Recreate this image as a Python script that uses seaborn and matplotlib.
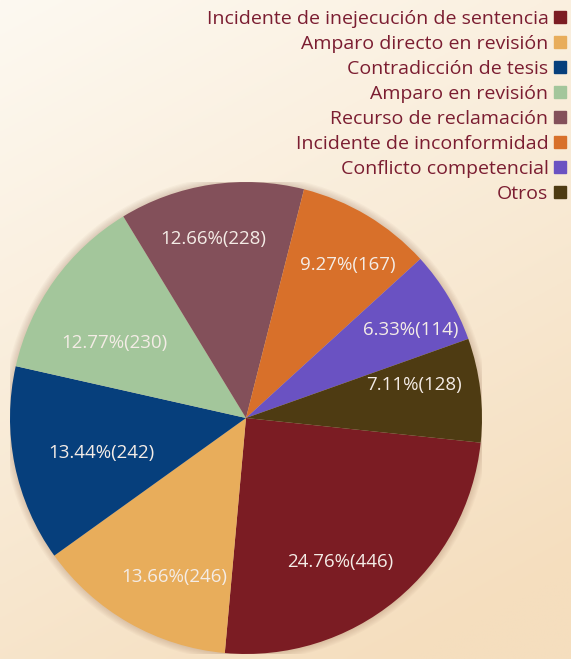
import numpy as np
import matplotlib
matplotlib.use('Agg')
import matplotlib.pyplot as plt
from matplotlib.lines import Line2D
from matplotlib.patches import Circle
import seaborn as sns

# data
categories = ['Incidente de inejecución de sentencia',
              'Amparo directo en revisión',
              'Contradicción de tesis',
              'Amparo en revisión',
              'Recurso de reclamación',
              'Incidente de inconformidad',
              'Conflicto competencial',
              'Otros']
counts = [446, 246, 242, 230, 228, 167, 114, 128]
slice_colors = ['#7b1c23', '#e8ad5b', '#063f7c', '#a3c69b',
                '#83505a', '#d8702a', '#6a52c2', '#4e3b12']

# label placement tweaks (degrees off the wedge middle, fraction of radius)
label_shift = [-6.4, 5.6, 2.2, 5.9, 1.7, -2.8, -2.8, 4.3]
label_radius = [0.73, 0.74, 0.63, 0.64, 0.77, 0.78, 0.79, 0.725]

sns.set_style('white')
plt.rcParams['font.family'] = ['Open Sans', 'DejaVu Sans']

fig = plt.figure(figsize=(5.71, 6.59), dpi=100)

# warm gradient background
bg = fig.add_axes([0, 0, 1, 1])
yy, xx = np.mgrid[0:1:200j, 0:1:200j]
t = np.clip(0.75 * yy + 0.35 * xx, 0, 1)
top = np.array([253, 249, 241]) / 255
bot = np.array([245, 222, 190]) / 255
img = top[None, None, :] * (1 - t[..., None]) + bot[None, None, :] * t[..., None]
bg.imshow(img, extent=[0, 1, 0, 1], aspect='auto', origin='upper')
bg.axis('off')

ax = fig.add_axes([0.0175, 0.0076, 0.8266, 0.7162])

# soft glow around the pie
for k in range(6):
    ax.add_patch(Circle((0, 0), 1.0 + 0.005 * (k + 1), color='#7a4a30',
                        alpha=0.035, lw=0, zorder=0))

total = sum(counts)
def fmt(pct):
    n = int(round(pct * total / 100.0))
    return '%.2f%%(%d)' % (pct, n)

wedges, texts, autotexts = ax.pie(counts, colors=slice_colors, startangle=-6,
                                  counterclock=False, autopct=fmt, pctdistance=0.73,
                                  wedgeprops=dict(linewidth=0),
                                  textprops=dict(color='#f4ece6', fontsize=13.5))
for w, at, dth, r in zip(wedges, autotexts, label_shift, label_radius):
    mid = np.deg2rad((w.theta1 + w.theta2) / 2 + dth)
    at.set_position((r * np.cos(mid), r * np.sin(mid)))

ax.set_xlim(-1, 1)
ax.set_ylim(-1, 1)
ax.axis('off')

handles = [Line2D([], [], marker='s', linestyle='none', markersize=8.5,
                  markerfacecolor=c, markeredgecolor=c) for c in slice_colors]
leg = fig.legend(handles, categories, loc='upper right', bbox_to_anchor=(1.02, 1.008),
                 markerfirst=False, frameon=False, fontsize=14,
                 handlelength=0.7, handletextpad=0.25, labelspacing=0.36,
                 borderpad=0.3)
for txt in leg.get_texts():
    txt.set_color('#7b1d31')

fig.savefig('out.png', dpi=100)
